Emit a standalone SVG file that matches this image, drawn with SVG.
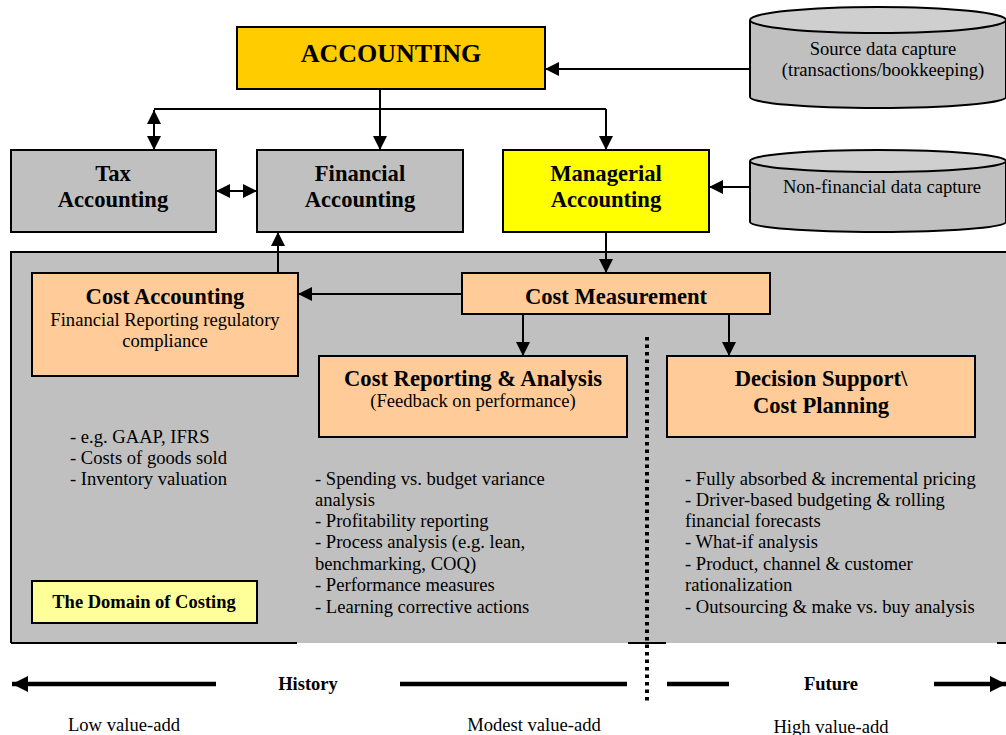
<svg xmlns="http://www.w3.org/2000/svg" width="1006" height="735" viewBox="0 0 1006 735">
<defs>
<style>
text{font-family:"Liberation Serif","Times New Roman",serif;fill:#000}
.t{font-size:18.6px}
.b{font-size:18.5px;font-weight:bold}
.h{font-size:22.6px;font-weight:bold}
.box{stroke:#000;stroke-width:2}
.c{text-anchor:middle}
.ln{stroke:#000;stroke-width:2;fill:none}
.thick{stroke:#000;stroke-width:4.5;fill:none}
</style>
<marker id="ah" viewBox="0 0 14 14" refX="14" refY="7" markerWidth="14" markerHeight="14" markerUnits="userSpaceOnUse" orient="auto-start-reverse">
<path d="M0,0 L14,7 L0,14 Z" fill="#000"/>
</marker>
<marker id="big" viewBox="0 0 16 16" refX="16" refY="8" markerWidth="16" markerHeight="16" markerUnits="userSpaceOnUse" orient="auto">
<path d="M0,0 L16,8 L0,16 Z" fill="#000"/>
</marker>
</defs>
<rect width="1006" height="735" fill="#fff"/>

<g id="domain">
<rect x="11" y="252" width="1000" height="391" fill="#C0C0C0"/>
<path d="M11,643 L11,252 L1006,252" class="ln"/>
<path d="M11,643 H297 M628,643 H666 M997,643 H1006" class="ln"/>
</g>

<g id="accounting">
<rect x="237" y="27" width="308" height="62" fill="#FFCC00" class="box"/>
<text x="391" y="62" class="c" style="font-size:26px;font-weight:bold">ACCOUNTING</text>
</g>

<g id="source">
<path d="M750,20 V97 A128,11 0 0 0 1006,97 V20" fill="#C0C0C0" class="box"/>
<ellipse cx="878" cy="20" rx="128" ry="13" fill="#CFCFCF" class="box"/>
<text x="883" y="55" class="t c">Source data capture</text>
<text x="883" y="76" class="t c">(transactions/bookkeeping)</text>
</g>

<g id="tax">
<rect x="11" y="150" width="205" height="82" fill="#C0C0C0" class="box"/>
<text x="113" y="181" class="h c">Tax</text>
<text x="113" y="207" class="h c">Accounting</text>
</g>

<g id="financial">
<rect x="257" y="150" width="206" height="82" fill="#C0C0C0" class="box"/>
<text x="360" y="181" class="h c">Financial</text>
<text x="360" y="207" class="h c">Accounting</text>
</g>

<g id="managerial">
<rect x="503" y="150" width="206" height="82" fill="#FFFF00" class="box"/>
<text x="606" y="181" class="h c">Managerial</text>
<text x="606" y="207" class="h c">Accounting</text>
</g>

<g id="nonfinancial">
<path d="M750,161 V222 A128,10 0 0 0 1006,222 V161" fill="#C0C0C0" class="box"/>
<ellipse cx="878" cy="161" rx="128" ry="11" fill="#CFCFCF" class="box"/>
<text x="882" y="193" class="t c">Non-financial data capture</text>
</g>

<g id="costaccounting">
<rect x="32" y="273" width="266" height="103" fill="#FFCC99" class="box"/>
<text x="165" y="304" class="h c">Cost Accounting</text>
<text x="165" y="326" class="t c">Financial Reporting regulatory</text>
<text x="165" y="347" class="t c">compliance</text>
</g>

<g id="costmeasurement">
<rect x="462" y="273" width="308" height="41" fill="#FFCC99" class="box"/>
<text x="616" y="304" class="h c">Cost Measurement</text>
</g>

<g id="costreporting">
<rect x="319" y="356" width="308" height="81" fill="#FFCC99" class="box"/>
<text x="473" y="386" class="h c">Cost Reporting &amp; Analysis</text>
<text x="473" y="407" class="t c">(Feedback on performance)</text>
</g>

<g id="decision">
<rect x="667" y="356" width="308" height="81" fill="#FFCC99" class="box"/>
<text x="821" y="386" class="h c">Decision Support\</text>
<text x="821" y="413" class="h c">Cost Planning</text>
</g>

<g id="domainlabel">
<rect x="32" y="581" width="225" height="42" fill="#FFFF99" class="box"/>
<text x="144" y="608" class="b c">The Domain of Costing</text>
</g>

<g id="lists">
<text class="t">
<tspan x="70" y="443">- e.g. GAAP, IFRS</tspan>
<tspan x="70" y="464">- Costs of goods sold</tspan>
<tspan x="70" y="485">- Inventory valuation</tspan>
</text>
<text class="t">
<tspan x="315" y="485">- Spending vs. budget variance</tspan>
<tspan x="315" y="506">analysis</tspan>
<tspan x="315" y="527">- Profitability reporting</tspan>
<tspan x="315" y="548">- Process analysis (e.g. lean,</tspan>
<tspan x="315" y="570">benchmarking, COQ)</tspan>
<tspan x="315" y="591">- Performance measures</tspan>
<tspan x="315" y="613">- Learning corrective actions</tspan>
</text>
<text class="t">
<tspan x="685" y="485">- Fully absorbed &amp; incremental pricing</tspan>
<tspan x="685" y="506">- Driver-based budgeting &amp; rolling</tspan>
<tspan x="685" y="527">financial forecasts</tspan>
<tspan x="685" y="548">- What-if analysis</tspan>
<tspan x="685" y="570">- Product, channel &amp; customer</tspan>
<tspan x="685" y="591">rationalization</tspan>
<tspan x="685" y="613">- Outsourcing &amp; make vs. buy analysis</tspan>
</text>
</g>

<g id="timeline">
<text x="308" y="690" class="b c">History</text>
<text x="831" y="690" class="b c">Future</text>
<text x="124" y="731" class="t c">Low value-add</text>
<text x="534" y="731" class="t c">Modest value-add</text>
<text x="831" y="733" class="t c">High value-add</text>
</g>

<g id="connectors">
<path d="M750,69 H545" class="ln" marker-end="url(#ah)"/>
<path d="M380,89 V109" class="ln"/>
<path d="M154,109 H606" class="ln"/>
<path d="M380,109 V150" class="ln" marker-end="url(#ah)"/>
<path d="M606,109 V150" class="ln" marker-end="url(#ah)"/>
<path d="M154,110 V150" class="ln" marker-start="url(#ah)" marker-end="url(#ah)"/>
<path d="M216,191 H257" class="ln" marker-start="url(#ah)" marker-end="url(#ah)"/>
<path d="M750,187 H709" class="ln" marker-end="url(#ah)"/>
<path d="M606,232 V273" class="ln" marker-end="url(#ah)"/>
<path d="M462,294 H298" class="ln" marker-end="url(#ah)"/>
<path d="M278,273 V232" class="ln" marker-end="url(#ah)"/>
<path d="M523,314 V356" class="ln" marker-end="url(#ah)"/>
<path d="M729,314 V356" class="ln" marker-end="url(#ah)"/>
<path d="M647,337 V702" stroke="#000" stroke-width="4" stroke-dasharray="3.5 4" fill="none"/>
<path d="M216,684 H12" class="thick" marker-end="url(#big)"/>
<path d="M400,684 H627 M667,684 H729" class="thick"/>
<path d="M934,684 H1006" class="thick" marker-end="url(#big)"/>
</g>
</svg>
